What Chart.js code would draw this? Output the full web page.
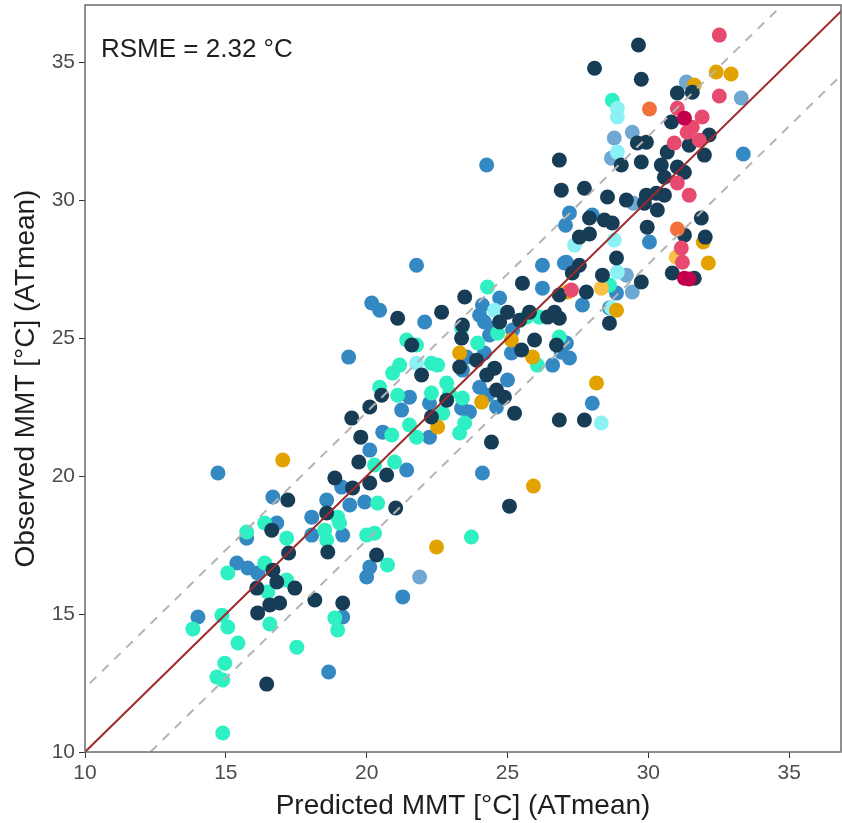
<!DOCTYPE html>
<html>
<head>
<meta charset="utf-8">
<script src="https://cdn.jsdelivr.net/npm/chart.js@4"></script>
<style>
  html,body{margin:0;padding:0;background:#fff;}
  #wrap{width:842px;height:823px;}
</style>
</head>
<body>
<div id="wrap"><canvas id="main-chart" width="842" height="823"></canvas></div>
<script>
// [predicted, observed] pairs, one array per colour group
const navyPts=[[16.63,18.04],[17.23,17.21],[18.62,17.25],[20.35,17.14],[16.67,16.59],[16.81,16.16],[17.45,15.94],[16.10,15.94],
 [16.56,15.33],[16.91,15.40],[16.13,15.04],[18.16,15.51],[19.15,15.40],[16.45,12.46],[20.53,22.93],[20.11,22.50],[19.47,22.10],
 [22.30,22.14],[24.43,21.23],[19.79,21.41],[19.72,20.51],[20.71,20.04],[18.87,19.93],[19.50,19.57],[20.11,19.75],[17.20,19.13],
 [21.03,18.84],[18.58,18.66],[25.07,18.91],[21.10,25.72],[22.66,25.94],[23.48,26.49],[25.53,26.99],[27.55,27.64],[28.37,27.28],
 [27.80,26.67],[26.84,26.56],[28.62,25.54],[26.67,25.94],[26.84,25.72],[26.42,25.76],[25.78,25.94],[25.43,25.65],[25.00,25.94],
 [24.72,25.58],[23.40,25.47],[23.37,25.00],[25.96,24.93],[25.50,24.57],[26.74,24.75],[23.90,24.20],[24.54,23.91],[24.26,23.66],
 [23.30,23.95],[27.73,22.03],[26.84,22.03],[25.25,22.28],[21.60,24.75],[21.95,23.66],[22.84,22.75],[24.61,23.12],[24.89,22.86],
 [26.84,31.45],[26.91,30.36],[27.73,30.43],[27.91,29.35],[27.55,28.66],[27.91,28.77],[27.30,27.36],[28.87,27.90],[29.75,27.03],
 [30.85,27.36],[31.63,27.17],[29.65,35.62],[28.09,34.78],[29.75,34.38],[31.03,33.88],[31.56,33.91],[30.82,32.83],[32.16,32.36],
 [29.61,32.07],[29.93,32.10],[31.45,31.99],[30.67,31.74],[31.99,31.63],[29.04,31.27],[29.75,31.38],[30.46,31.27],[31.03,31.20],
 [30.57,30.83],[31.28,31.01],[29.93,30.18],[30.28,30.25],[30.57,30.18],[30.32,29.64],[29.86,29.89],[29.22,30.00],[28.55,30.11],
 [28.44,29.28],[28.72,29.17],[31.88,29.35],[29.96,29.02],[31.28,28.73],[32.02,28.66]];
const bluePts=[[15.74,17.75],[16.81,18.30],[18.05,17.86],[19.15,17.86],[20.11,16.70],[20.00,16.34],[15.39,16.85],[15.78,16.67],
 [16.13,16.49],[19.15,14.89],[14.01,14.89],[18.65,12.90],[21.28,15.62],[21.52,22.86],[24.29,22.93],[24.61,22.50],[21.24,22.39],
 [20.57,21.59],[22.23,21.41],[23.37,22.46],[23.65,22.32],[20.11,20.94],[21.42,20.22],[19.11,19.60],[24.11,20.11],[16.67,19.24],
 [18.58,19.13],[19.40,18.95],[19.93,19.06],[18.05,18.51],[14.72,20.11],[21.77,27.64],[22.06,25.58],[20.46,26.01],[26.24,27.64],
 [27.02,27.72],[26.24,26.81],[27.66,26.20],[28.62,26.09],[24.72,26.45],[24.11,26.20],[24.01,25.83],[24.18,25.58],[24.47,25.36],
 [24.36,25.11],[25.18,25.29],[27.09,24.82],[26.91,24.49],[26.60,24.02],[27.20,24.28],[25.14,24.46],[23.55,24.31],[24.18,24.46],
 [23.40,23.84],[25.00,23.48],[28.01,22.64],[22.23,22.64],[24.01,23.22],[20.18,26.27],[19.36,24.31],[24.26,31.27],[27.20,29.53],
 [27.06,29.09],[27.09,27.75],[28.87,26.63],[33.37,31.67],[28.01,29.46],[30.04,28.48]];
const cyanPts=[[24.54,26.01],[28.33,21.92],[21.77,24.09],[27.38,28.37],[28.90,27.39],[28.69,26.09],[28.90,33.33],[28.90,33.01],
 [28.90,31.74],[28.79,28.55]];
const greenPts=[[15.74,17.97],[16.38,18.30],[17.16,17.75],[18.58,17.68],[18.51,18.04],[20.00,17.86],[20.28,17.93],[20.74,16.78],
 [15.07,16.49],[16.38,16.85],[17.16,16.23],[16.49,15.80],[18.87,14.86],[18.97,14.42],[13.83,14.46],[14.86,14.96],[15.07,14.53],
 [16.56,14.64],[15.43,13.95],[17.52,13.80],[14.96,13.22],[14.68,12.72],[14.89,12.61],[14.89,10.69],[21.10,22.93],[22.30,23.01],
 [22.94,23.01],[23.40,22.83],[21.52,21.85],[20.89,21.49],[21.77,21.41],[22.70,22.28],[23.48,21.92],[23.30,21.56],[20.28,20.40],
 [20.99,20.51],[20.39,19.02],[18.97,18.51],[19.04,18.30],[23.72,17.79],[24.29,26.85],[26.13,25.76],[25.67,25.76],[24.65,25.18],
 [23.37,25.36],[23.94,24.82],[26.06,24.02],[26.84,25.04],[21.42,24.93],[21.77,24.75],[21.17,24.02],[20.92,23.73],[22.30,24.09],
 [22.52,24.02],[22.84,23.37],[20.46,23.22],[28.62,26.92],[28.72,33.62]];
const orangePts=[[24.08,22.68],[22.52,21.78],[17.02,20.58],[22.48,17.43],[25.92,19.64],[27.13,26.67],[25.14,24.93],[25.89,24.31],
 [23.30,24.46],[28.16,23.37],[28.87,26.01],[32.41,34.64],[32.94,34.57],[31.63,34.17],[31.95,28.48],[32.13,27.72]];
const coralPts=[[30.04,33.30],[31.03,28.95]];
const pinkPts=[[27.27,26.74],[32.52,35.98],[32.52,33.77],[31.03,33.33],[31.91,33.01],[31.56,32.64],[31.38,32.46],[30.92,32.07],
 [31.81,32.17],[31.03,30.62],[31.45,30.18],[31.17,28.26],[31.21,27.75]];
const crimsonPts=[[31.28,32.97],[31.28,27.17],[31.45,27.14]];
const steelPts=[[21.88,16.34],[31.35,34.28],[33.30,33.70],[28.79,32.25],[29.43,32.46],[28.69,31.52],[29.47,29.89],[29.22,27.28],
 [29.43,26.67]];
const goldPts=[[28.33,26.81],[30.99,27.93]];

const rmse=2.32;
const xTicks=[10,15,20,25,30,35];
const yTicks=[10,15,20,25,30,35];
const xTitle="Predicted MMT [°C] (ATmean)";
const yTitle="Observed MMT [°C] (ATmean)";
const noteText="RSME = 2.32 °C";

// bottom to top
const groups=[
  {pts:bluePts,color:"#3589c3"},
  {pts:steelPts,color:"#6fa8d3"},
  {pts:greenPts,color:"#2ef0c2"},
  {pts:cyanPts,color:"#8cf1f5"},
  {pts:orangePts,color:"#e2a300"},
  {pts:goldPts,color:"#f9c145"},
  {pts:navyPts,color:"#163c56"},
  {pts:coralPts,color:"#f2703c"},
  {pts:pinkPts,color:"#e8496e"},
  {pts:crimsonPts,color:"#c2004c"}
];

function toXY(pts){
  return pts.map(p=>({x:p[0],y:p[1]}));
}

const datasets=[];
groups.forEach((g,i)=>{
  datasets.push({
    type:"scatter",
    data:toXY(g.pts),
    backgroundColor:g.color,
    borderWidth:0,
    pointRadius:7.5,
    pointHoverRadius:7.5,
    order:100-i
  });
});
function refLine(off,color,dash,width){
  return {
    type:"line",
    data:[{x:5,y:5+off},{x:40,y:40+off}],
    borderColor:color,
    borderWidth:width,
    borderDash:dash,
    pointRadius:0,
    fill:false,
    order:0
  };
}
datasets.push(refLine(rmse,"#b4b4b4",[9,8],2));
datasets.push(refLine(-rmse,"#b4b4b4",[9,8],2));
datasets.push(refLine(0,"#9e2a2b",[],2));

const framePlugin={
  id:"frame",
  afterDraw(chart){
    const ctx=chart.ctx, a=chart.chartArea;
    ctx.save();
    ctx.strokeStyle="#6b6b6b";
    ctx.lineWidth=1.5;
    ctx.strokeRect(a.left,a.top,a.right-a.left,a.bottom-a.top);
    ctx.fillStyle="#1e1e1e";
    ctx.font="26px 'Liberation Sans', Arial, sans-serif";
    ctx.textBaseline="alphabetic";
    ctx.fillText(noteText,a.left+16,57);
    ctx.restore();
  }
};

Chart.defaults.font.family="'Liberation Sans', Arial, sans-serif";

const ctx=document.getElementById("main-chart").getContext("2d");
const mychart=new Chart(ctx,{
  data:{datasets:datasets},
  options:{
    responsive:false,
    animation:false,
    devicePixelRatio:1,
    layout:{autoPadding:false,padding:{top:5,right:1,left:0,bottom:0}},
    plugins:{legend:{display:false},tooltip:{enabled:false}},
    scales:{
      x:{
        type:"linear",
        min:10,max:36.84,
        afterFit(s){s.height=71;s.paddingLeft=0;s.paddingRight=0;},
        afterBuildTicks(s){s.ticks=xTicks.map(v=>({value:v}));},
        ticks:{color:"#4d4d4d",font:{size:21},padding:3,maxRotation:0},
        grid:{drawOnChartArea:false,tickLength:6,color:"#333",lineWidth:1},
        border:{display:false},
        title:{display:true,text:xTitle,color:"#1e1e1e",font:{size:28},padding:{top:0,bottom:0}}
      },
      y:{
        type:"linear",
        min:10,max:37.07,
        afterFit(s){s.width=85;s.paddingTop=0;s.paddingBottom=0;},
        afterBuildTicks(s){s.ticks=yTicks.map(v=>({value:v}));},
        ticks:{color:"#4d4d4d",font:{size:21},padding:4},
        grid:{drawOnChartArea:false,tickLength:6,color:"#333",lineWidth:1},
        border:{display:false},
        title:{display:true,text:yTitle,color:"#1e1e1e",font:{size:28},padding:{top:9,bottom:0}}
      }
    }
  },
  plugins:[framePlugin]
});
</script>
</body>
</html>
